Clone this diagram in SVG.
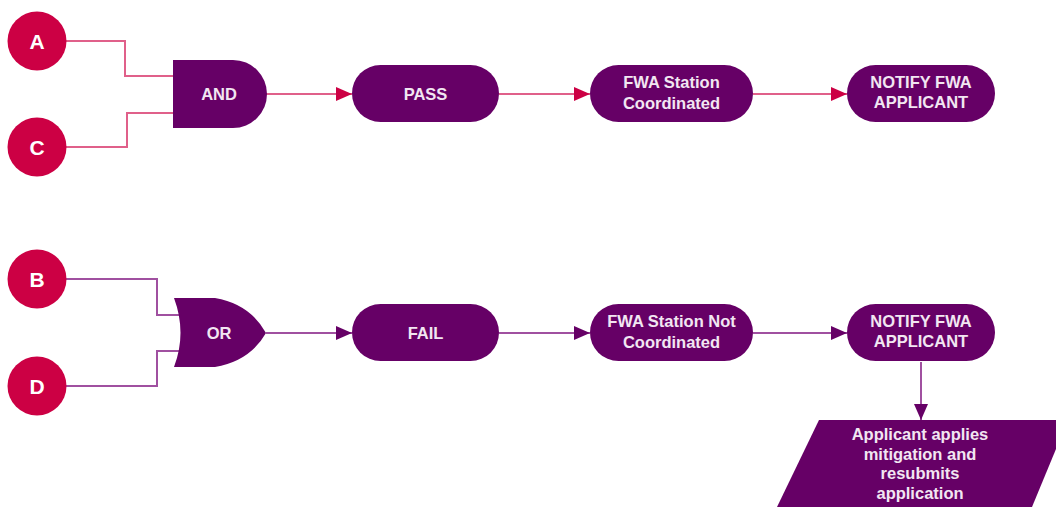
<svg xmlns="http://www.w3.org/2000/svg" width="1056" height="507" viewBox="0 0 1056 507">
<defs>
<style>
.circ{fill:#cc0044}
.node{fill:#660066}
.lbl{font-family:"Liberation Sans",Arial,sans-serif;font-weight:bold;font-size:16.5px;fill:#f2e6f2;text-anchor:middle}
.let{font-family:"Liberation Sans",Arial,sans-serif;font-weight:bold;font-size:21px;fill:#ffffff;text-anchor:middle}
.pk{fill:none;stroke:#e0608a;stroke-width:2}
.pu{fill:none;stroke:#a050a0;stroke-width:2}
</style>
<marker id="ar" markerWidth="16" markerHeight="14" refX="16" refY="7" orient="auto" markerUnits="userSpaceOnUse"><path d="M0,0 L16,7 L0,14 Z" fill="#cc0044"/></marker>
<marker id="ap" markerWidth="16" markerHeight="14" refX="16" refY="7" orient="auto" markerUnits="userSpaceOnUse"><path d="M0,0 L16,7 L0,14 Z" fill="#660066"/></marker>
</defs>
<rect width="1056" height="507" fill="#ffffff"/>
<g id="connectors">
<polyline class="pk" points="66,41 125,41 125,76 174,76"/>
<polyline class="pk" points="66,147 127,147 127,113 174,113"/>
<line class="pk" x1="266" y1="94" x2="352" y2="94" marker-end="url(#ar)"/>
<line class="pk" x1="499" y1="94" x2="590" y2="94" marker-end="url(#ar)"/>
<line class="pk" x1="753" y1="94" x2="847" y2="94" marker-end="url(#ar)"/>
<polyline class="pu" points="66,279 157,279 157,315 180,315"/>
<polyline class="pu" points="66,386 157,386 157,351 180,351"/>
<line class="pu" x1="266" y1="333" x2="352" y2="333" marker-end="url(#ap)"/>
<line class="pu" x1="499" y1="333" x2="590" y2="333" marker-end="url(#ap)"/>
<line class="pu" x1="753" y1="333" x2="847" y2="333" marker-end="url(#ap)"/>
<line class="pu" x1="921" y1="362" x2="921" y2="420" marker-end="url(#ap)"/>
</g>
<g id="A"><circle class="circ" cx="37" cy="41" r="29.5"/><text class="let" x="37" y="48.5">A</text></g>
<g id="C"><circle class="circ" cx="37" cy="147" r="29.5"/><text class="let" x="37" y="154.5">C</text></g>
<g id="B"><circle class="circ" cx="37" cy="279" r="29.5"/><text class="let" x="37" y="286.5">B</text></g>
<g id="D"><circle class="circ" cx="37" cy="386" r="29.5"/><text class="let" x="37" y="393.5">D</text></g>
<g id="AND"><path class="node" d="M173,60 L233,60 A34,34 0 0 1 233,128 L173,128 Z"/><text class="lbl" x="219" y="100">AND</text></g>
<g id="OR"><path class="node" d="M174,298 L215,298 Q250,304 266,333 Q250,361 215,367 L174,367 Q187,333 174,298 Z"/><text class="lbl" x="219" y="339">OR</text></g>
<g id="PASS"><rect class="node" x="352" y="65" width="147" height="57" rx="28.5"/><text class="lbl" x="425.5" y="100">PASS</text></g>
<g id="coord"><rect class="node" x="590" y="65" width="163" height="57" rx="28.5"/><text class="lbl" x="671.5" y="88">FWA Station</text><text class="lbl" x="671.5" y="109">Coordinated</text></g>
<g id="notify1"><rect class="node" x="847" y="65" width="148" height="57" rx="28.5"/><text class="lbl" x="921" y="88">NOTIFY FWA</text><text class="lbl" x="921" y="108">APPLICANT</text></g>
<g id="FAIL"><rect class="node" x="352" y="304" width="147" height="57" rx="28.5"/><text class="lbl" x="425.5" y="339">FAIL</text></g>
<g id="notcoord"><rect class="node" x="590" y="304" width="163" height="57" rx="28.5"/><text class="lbl" x="671.5" y="327">FWA Station Not</text><text class="lbl" x="671.5" y="348">Coordinated</text></g>
<g id="notify2"><rect class="node" x="847" y="304" width="148" height="57" rx="28.5"/><text class="lbl" x="921" y="327">NOTIFY FWA</text><text class="lbl" x="921" y="347">APPLICANT</text></g>
<g id="mitigate"><path class="node" d="M819,420 L1068,420 L1032,507 L777,507 Z"/>
<text class="lbl" x="920" y="440">Applicant applies</text>
<text class="lbl" x="920" y="460">mitigation and</text>
<text class="lbl" x="920" y="479">resubmits</text>
<text class="lbl" x="920" y="499">application</text></g>
</svg>
